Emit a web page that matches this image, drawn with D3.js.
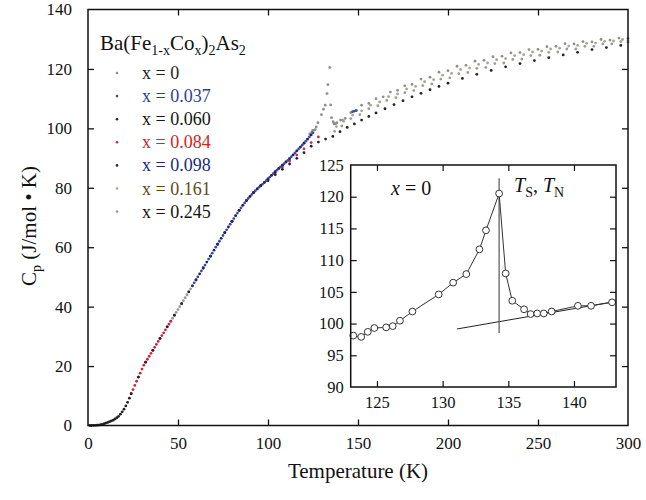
<!DOCTYPE html>
<html>
<head>
<meta charset="utf-8">
<script src="https://cdn.jsdelivr.net/npm/d3@7"></script>
<style>
  html, body { margin: 0; padding: 0; background: #fff; }
  svg { display: block; }
</style>
</head>
<body>
<svg id="chart" width="646" height="500"></svg>
<script>
// Specific heat of Ba(Fe1-xCox)2As2 versus temperature

// x = 0 (parent compound), including the structural / magnetic transition
const t_x0 = [80, 82, 84, 86, 88, 90, 92, 94, 96, 98, 100, 102, 104, 106, 108, 110, 112, 114, 116, 118, 120, 122,
  123.2, 123.8, 124.3, 124.8, 125.7, 126.2, 126.75, 127.7, 129.7, 130.8, 131.8, 132.8, 133.3, 134.3,
  134.8, 135.3, 136.2, 136.7, 137.2, 137.7, 138.3, 140.3, 141.3, 142.9,
  146, 149, 152, 156, 160, 164, 168, 172, 176, 180, 185, 190, 195, 200, 205, 210, 215, 220, 225, 230,
  235, 240, 245, 250, 255, 260, 265, 270, 275, 280, 285, 290, 295, 300];
const c_x0 = [68.7, 70.6, 72.4, 74.1, 75.7, 77.1, 78.4, 79.6, 80.7, 81.8, 83.0, 84.2, 85.4, 86.5, 87.6, 88.7, 89.8, 91.1, 92.4, 93.7, 95.0, 96.4,
  98.1, 97.9, 98.7, 99.3, 99.4, 99.6, 100.45, 101.9, 104.6, 106.45, 107.8, 111.7, 114.7, 120.5,
  107.9, 103.6, 102.25, 101.5, 101.6, 101.6, 101.9, 102.8, 102.8, 103.35,
  105.3, 106.0, 107.8, 108.4, 110.0, 110.6, 112.2, 112.8, 114.3, 114.8, 116.6, 117.2, 118.9, 119.4, 120.9, 121.2, 122.6, 122.9, 124.1, 124.3,
  125.4, 125.5, 126.5, 126.6, 127.5, 127.6, 128.5, 128.4, 129.2, 129.1, 129.9, 129.7, 130.4, 130.3];

// x = 0.037
const t_x037 = [59, 61, 63, 65, 67, 69, 71, 73, 75, 77, 79, 81, 83, 85, 87, 89, 91, 93, 95, 97, 99, 101, 103, 105,
  107, 109, 111, 113, 115, 117, 119, 121, 123, 125, 147, 148, 149];
const c_x037 = [48.0, 50.0, 52.0, 54.0, 56.0, 58.0, 60.0, 62.0, 63.95, 65.85, 67.75, 69.65, 71.5, 73.25, 74.9, 76.4, 77.75, 79.0, 80.15, 81.25, 82.4, 83.6, 84.8, 85.95,
  87.05, 88.15, 89.25, 90.45, 91.75, 93.05, 94.35, 95.7, 97.1, 98.5, 105.6, 105.8, 106.0];

// x = 0.060
const t_x060 = [1, 2, 3, 4, 5, 6, 7, 8, 9, 10, 11, 12, 13, 14, 15, 16, 17, 18, 19, 20, 21, 22, 23, 24,
  28, 32, 36, 40, 44, 48, 52, 56, 60, 64, 68, 72, 76, 80, 84, 88, 92, 96,
  100, 104, 108, 112, 116, 120, 124, 128, 132, 136, 140, 144, 148, 152, 156, 160, 165, 170, 175, 180, 185, 190, 195,
  200, 208, 216, 224, 232, 240, 248, 256, 264, 272, 280, 288, 296];
const c_x060 = [0, 0, 0.02, 0.05, 0.1, 0.15, 0.25, 0.4, 0.6, 0.8, 1.05, 1.3, 1.55, 1.8, 2.2, 2.6, 3.1, 3.8, 4.6, 5.5, 6.6, 7.8, 9.2, 10.7,
  16.3, 21.3, 25.3, 29.3, 33.2, 37.1, 41.0, 45.0, 49.0, 53.0, 57.0, 61.0, 64.9, 68.7, 72.4, 75.7, 78.4, 80.7,
  82.4, 84.4, 86.2, 88.0, 89.9, 91.8, 94.0, 95.4, 96.4, 97.3, 98.9, 100.3, 101.5, 102.8, 104.0, 105.2, 106.6, 108.0, 109.3, 110.6, 111.8, 113.0, 114.1,
  115.2, 116.8, 118.2, 119.5, 120.7, 121.8, 122.8, 123.8, 124.7, 125.6, 126.5, 127.2, 127.9];

// x = 0.084
const t_x084 = [24, 25, 26, 27, 28, 29, 30, 31, 32, 33, 34, 35, 36, 37, 38, 39, 40, 41, 42, 43, 44, 45, 46,
  100, 104, 108, 112, 116, 120, 124, 128];
const c_x084 = [10.7, 12.1, 13.5, 14.9, 16.3, 17.6, 19.0, 20.3, 21.3, 22.3, 23.3, 24.3, 25.3, 26.3, 27.3, 28.3, 29.3, 30.25, 31.2, 32.2, 33.2, 34.15, 35.1,
  82.8, 85.0, 87.0, 89.0, 91.0, 93.1, 95.2, 97.1];

// x = 0.098
const t_x098 = [58, 60, 62, 64, 66, 68, 70, 72, 74, 76, 78, 80, 82, 84, 86, 88, 90, 92, 94, 96, 98, 100,
  102, 104, 106, 108, 110, 112, 114, 116, 118, 120, 122, 124];
const c_x098 = [47.0, 49.0, 51.0, 53.0, 55.0, 57.0, 59.0, 61.0, 63.0, 64.9, 66.8, 68.7, 70.6, 72.4, 74.1, 75.7, 77.1, 78.4, 79.6, 80.7, 81.8, 83.0,
  84.2, 85.4, 86.5, 87.6, 88.7, 89.8, 91.1, 92.4, 93.7, 95.0, 96.4, 97.8];

// x = 0.161
const t_x161 = [138, 142, 147, 152, 157, 162, 167, 172, 177, 182, 187, 192, 197, 202, 207, 212, 217, 222, 227, 232,
  237, 242, 247, 252, 257, 262, 267, 272, 277, 282, 287, 292, 297, 300];
const c_x161 = [100.6, 102.4, 104.5, 105.9, 107.8, 108.9, 110.7, 111.6, 113.3, 114.1, 115.7, 116.4, 117.9, 118.5, 119.8, 120.3, 121.5, 122.0, 123.1, 123.5,
  124.5, 124.8, 125.7, 126.0, 126.7, 127.0, 127.7, 127.9, 128.6, 128.7, 129.3, 129.4, 129.9, 129.6];

// x = 0.245
const t_x245 = [45, 46, 47, 48, 49, 50, 51, 52, 53, 54, 55, 56, 57, 58,
  137, 141, 146, 151, 156, 161, 166, 171, 176, 181, 186, 191, 196, 201, 206, 211, 216, 221, 226, 231,
  236, 241, 246, 251, 256, 261, 266, 271, 276, 281, 286, 291, 296, 300];
const c_x245 = [34.15, 35.1, 36.1, 37.1, 38.05, 39.0, 40.0, 41.0, 42.0, 43.0, 44.0, 45.0, 46.0, 47.0,
  99.0, 100.8, 103.3, 104.6, 106.6, 107.6, 109.4, 110.3, 112.0, 112.7, 114.4, 115.0, 116.6, 117.0, 118.4, 118.8, 120.2, 120.5, 121.8, 122.0,
  123.2, 123.3, 124.5, 124.6, 125.6, 125.7, 126.7, 126.7, 127.6, 127.6, 128.4, 128.4, 129.2, 129.0];

// legend labels and axis ticks
const legendLabels = ["x = 0", "x = 0.037", "x = 0.060", "x = 0.084", "x = 0.098", "x = 0.161", "x = 0.245"];
const xTicks = [0, 50, 100, 150, 200, 250, 300];
const yTicks = [0, 20, 40, 60, 80, 100, 120, 140];
const insetXTicks = [125, 130, 135, 140];
const insetYTicks = [90, 95, 100, 105, 110, 115, 120, 125];
// transition temperature marker and high-temperature baseline in the inset
const transitionT = [134.3];
const transitionC = [98.5, 122.9];
const baselineT = [131.1, 143.2];
const baselineC = [99.15, 103.5];

const series = [
  { t: t_x0,   c: c_x0,   dot: "#8e8e8e", text: "#222222" },
  { t: t_x037, c: c_x037, dot: "#3a4aa8", text: "#2d3c9c" },
  { t: t_x060, c: c_x060, dot: "#222222", text: "#151515" },
  { t: t_x084, c: c_x084, dot: "#c8283a", text: "#d42424" },
  { t: t_x098, c: c_x098, dot: "#22226e", text: "#202c7a" },
  { t: t_x161, c: c_x161, dot: "#aaa28a", text: "#5e4c16" },
  { t: t_x245, c: c_x245, dot: "#9a9a9a", text: "#151515" }
];
// painting order of the series (last on top)
const drawOrder = [0, 6, 5, 3, 2, 1, 4];

const SERIF = "'Liberation Serif'";
const svg = d3.select("#chart");

// text helper: a text element set in the serif face
function addText(parent, size) {
  return parent.append("text").attr("font-family", SERIF).style("font-size", size + "px").attr("fill", "#111");
}
function addSpan(txt, str, opts = {}) {
  const s = txt.append("tspan").attr("font-family", SERIF).text(str);
  if (opts.dy) s.attr("dy", opts.dy);
  if (opts.size) s.style("font-size", opts.size + "px");
  if (opts.italic) s.attr("font-style", "italic");
  return s;
}

// ---------- main panel ----------
const x = d3.scaleLinear().domain([0, 300]).range([88, 628]);
const y = d3.scaleLinear().domain([0, 140]).range([425.5, 9.5]);

const gx = svg.append("g").attr("transform", `translate(0,${y(0)})`)
  .call(d3.axisBottom(x).tickValues(xTicks).tickSizeInner(-6).tickSizeOuter(0).tickPadding(11));
const gxTop = svg.append("g").attr("transform", `translate(0,${y(140)})`)
  .call(d3.axisTop(x).tickValues(xTicks.slice(1, -1)).tickSizeInner(-6).tickSizeOuter(0).tickFormat(""));
const gy = svg.append("g").attr("transform", `translate(${x(0)},0)`)
  .call(d3.axisLeft(y).tickValues(yTicks).tickSizeInner(-6).tickSizeOuter(0).tickPadding(16));
const gyRight = svg.append("g").attr("transform", `translate(${x(300)},0)`)
  .call(d3.axisRight(y).tickValues(yTicks.slice(1, -1)).tickSizeInner(-6).tickSizeOuter(0).tickFormat(""));

[gx, gxTop, gy, gyRight].forEach(g => {
  g.attr("font-family", null).attr("font-size", null);
  g.select(".domain").remove();
  g.selectAll(".tick line").attr("stroke", "#111").attr("stroke-width", 1.3);
  g.selectAll(".tick text").attr("font-family", SERIF).style("font-size", "17px").attr("fill", "#111");
});
gx.selectAll(".tick line").filter(d => d === 0 || d === 300).remove();
gy.selectAll(".tick line").filter(d => d === 0 || d === 140).remove();

// data points
const pts = svg.append("g");
drawOrder.forEach(i => {
  const s = series[i];
  pts.append("g").selectAll("circle")
    .data(s.t.map((t, k) => [t, s.c[k]]))
    .join("circle")
    .attr("cx", d => x(d[0]))
    .attr("cy", d => y(d[1]))
    .attr("r", 1.4)
    .attr("fill", s.dot);
});

// frame
svg.append("rect")
  .attr("x", x(0)).attr("y", y(140))
  .attr("width", x(300) - x(0)).attr("height", y(0) - y(140))
  .attr("fill", "none").attr("stroke", "#111").attr("stroke-width", 1.5);

// axis titles
addText(svg, 21)
  .attr("x", (x(0) + x(300)) / 2).attr("y", 478)
  .attr("text-anchor", "middle")
  .text("Temperature (K)");

const yTitle = addText(svg, 21)
  .attr("transform", "translate(36,226) rotate(-90)")
  .attr("text-anchor", "middle");
addSpan(yTitle, "C");
addSpan(yTitle, "p", { dy: 5, size: 14 });
addSpan(yTitle, " (J/mol \u2022 K)", { dy: -5 });

// legend
const lg = svg.append("g");
const lgTitle = addText(lg, 21).attr("x", 100).attr("y", 50);
addSpan(lgTitle, "Ba(Fe");
addSpan(lgTitle, "1-x", { dy: 5, size: 14 });
addSpan(lgTitle, "Co", { dy: -5 });
addSpan(lgTitle, "x", { dy: 5, size: 14 });
addSpan(lgTitle, ")", { dy: -5 });
addSpan(lgTitle, "2", { dy: 5, size: 14 });
addSpan(lgTitle, "As", { dy: -5 });
addSpan(lgTitle, "2", { dy: 5, size: 14 });

legendLabels.forEach((lab, i) => {
  const cy = 73 + i * 23.1;
  lg.append("circle").attr("cx", 117).attr("cy", cy).attr("r", 1.3).attr("fill", series[i].dot);
  addText(lg, 18).attr("x", 142).attr("y", cy + 6)
    .attr("fill", series[i].text).text(lab);
});

// ---------- inset ----------
const xi = d3.scaleLinear().domain([123, 143.2]).range([350.7, 616]);
const yi = d3.scaleLinear().domain([90, 125]).range([387, 165]);

svg.append("rect")
  .attr("x", xi(123)).attr("y", yi(125))
  .attr("width", xi(143.2) - xi(123)).attr("height", yi(90) - yi(125))
  .attr("fill", "#fff");

const inset = svg.append("g");
const ixb = inset.append("g").attr("transform", `translate(0,${yi(90)})`)
  .call(d3.axisBottom(xi).tickValues(insetXTicks).tickSizeInner(-6).tickSizeOuter(0).tickPadding(9));
const ixt = inset.append("g").attr("transform", `translate(0,${yi(125)})`)
  .call(d3.axisTop(xi).tickValues(insetXTicks).tickSizeInner(-6).tickSizeOuter(0).tickFormat(""));
const iyl = inset.append("g").attr("transform", `translate(${xi(123)},0)`)
  .call(d3.axisLeft(yi).tickValues(insetYTicks).tickSizeInner(-6).tickSizeOuter(0).tickPadding(7));
const iyr = inset.append("g").attr("transform", `translate(${xi(143.2)},0)`)
  .call(d3.axisRight(yi).tickValues(insetYTicks.slice(1, -1)).tickSizeInner(-6).tickSizeOuter(0).tickFormat(""));
[ixb, ixt, iyl, iyr].forEach(g => {
  g.attr("font-family", null).attr("font-size", null);
  g.select(".domain").remove();
  g.selectAll(".tick line").attr("stroke", "#111").attr("stroke-width", 1.2);
  g.selectAll(".tick text").attr("font-family", SERIF).style("font-size", "16.5px").attr("fill", "#111");
});
iyl.selectAll(".tick line").filter(d => d === 90 || d === 125).remove();

const insetPts = t_x0.map((t, k) => [t, c_x0[k]]).filter(d => d[0] >= 123 && d[0] <= 143.2);

// baseline fit above the transition and the transition marker
inset.append("line")
  .attr("x1", xi(baselineT[0])).attr("y1", yi(baselineC[0]))
  .attr("x2", xi(baselineT[1])).attr("y2", yi(baselineC[1]))
  .attr("stroke", "#222").attr("stroke-width", 1);
inset.append("line")
  .attr("x1", xi(transitionT[0])).attr("y1", yi(transitionC[0]))
  .attr("x2", xi(transitionT[0])).attr("y2", yi(transitionC[1]))
  .attr("stroke", "#555").attr("stroke-width", 1.2);

inset.append("path")
  .datum(insetPts)
  .attr("d", d3.line().x(d => xi(d[0])).y(d => yi(d[1])))
  .attr("fill", "none").attr("stroke", "#333").attr("stroke-width", 1);

inset.append("g").selectAll("circle")
  .data(insetPts)
  .join("circle")
  .attr("cx", d => xi(d[0])).attr("cy", d => yi(d[1]))
  .attr("r", 3.4)
  .attr("fill", "#fff").attr("stroke", "#333").attr("stroke-width", 1);

inset.append("rect")
  .attr("x", xi(123)).attr("y", yi(125))
  .attr("width", xi(143.2) - xi(123)).attr("height", yi(90) - yi(125))
  .attr("fill", "none").attr("stroke", "#111").attr("stroke-width", 1.5);

// inset annotations
const lblX = addText(inset, 20).attr("x", 391).attr("y", 195);
addSpan(lblX, "x", { italic: true });
addSpan(lblX, " = 0");

const lblT = addText(inset, 20).attr("x", 514).attr("y", 192);
addSpan(lblT, "T", { italic: true });
addSpan(lblT, "S", { dy: 5, size: 14 });
addSpan(lblT, ", ", { dy: -5 });
addSpan(lblT, "T", { italic: true });
addSpan(lblT, "N", { dy: 5, size: 14 });
</script>
</body>
</html>
